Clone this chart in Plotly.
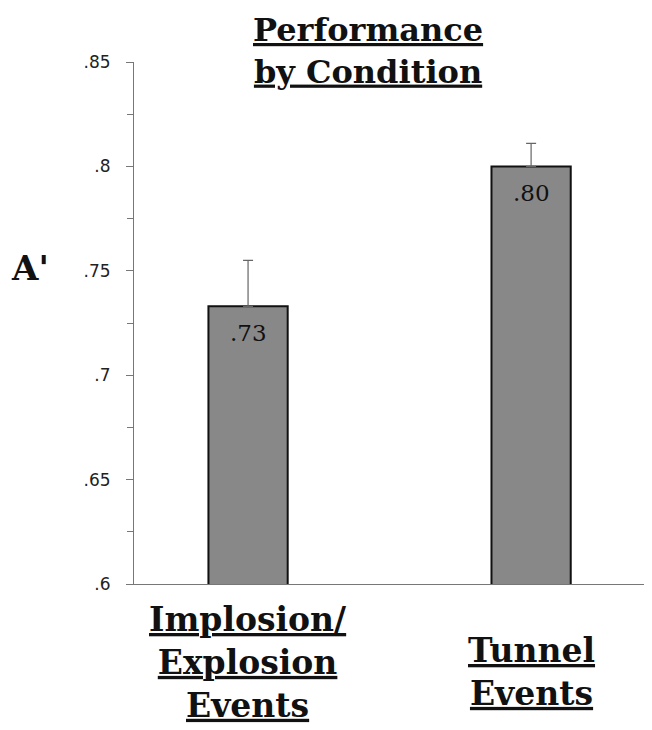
import plotly.graph_objects as go

categories = ["Implosion/<br>Explosion<br>Events", "Tunnel<br>Events"]
values = [0.733, 0.800]
errors = [0.022, 0.011]
bar_labels = [".73", ".80"]
tick_vals = [0.6, 0.65, 0.7, 0.75, 0.8, 0.85]
tick_text = [".6", ".65", ".7", ".75", ".8", ".85"]

xpos = list(range(len(categories)))

fig = go.Figure()
fig.add_trace(go.Bar(
    x=xpos, y=values, width=0.28,
    marker=dict(color="#888888", line=dict(color="#111111", width=2)),
    error_y=dict(type="data", symmetric=False, array=errors, arrayminus=[0]*len(errors),
                 color="#666666", thickness=1.2, width=5),
    showlegend=False, hoverinfo="skip",
))

serif = "DejaVu Serif"
for x, v, lab in zip(xpos, values, bar_labels):
    fig.add_annotation(x=x, y=v, xref="x", yref="y", text=lab, showarrow=False,
                       yanchor="middle", yshift=-27,
                       font=dict(family=serif, size=23, color="#111111"))

cat_y = [-0.150, -0.169]
for x, c, cy in zip(xpos, categories, cat_y):
    lines = c.split("<br>")
    txt = "<br>".join(f"<b><u>{l}</u></b>" for l in lines)
    fig.add_annotation(x=x, y=cy, xref="x", yref="paper", text=txt, showarrow=False,
                       yanchor="middle", borderpad=0,
                       font=dict(family=serif, size=33, color="#111111"))

fig.add_annotation(x=0.455, y=1.021, xref="paper", yref="paper",
                   text="<b><u>Performance</u></b><br><b><u>by Condition</u></b>",
                   showarrow=False, yanchor="middle",
                   font=dict(family=serif, size=32, color="#111111"))

fig.add_annotation(x=-0.243, y=0.605, xref="paper", yref="paper", text="<b>A'</b>",
                   showarrow=False, font=dict(family=serif, size=34, color="#111111"))

fig.update_layout(
    width=644, height=722,
    margin=dict(l=126, r=4, t=54, b=146),
    paper_bgcolor="white", plot_bgcolor="white",
    xaxis=dict(range=[-0.403, 1.413], showticklabels=False, ticks="", showgrid=False,
               zeroline=False, showline=True, linecolor="#777777", linewidth=1),
    yaxis=dict(range=[0.6, 0.85], tickvals=tick_vals, ticktext=tick_text,
               ticks="outside", ticklen=7, tickcolor="#777777", showgrid=False,
               zeroline=False, showline=True, linecolor="#777777", linewidth=1,
               ticklabelstandoff=12,
               tickfont=dict(family="DejaVu Sans", size=17, color="#222222"),
               minor=dict(dtick=0.025, ticks="outside", ticklen=6, tickcolor="#777777", showgrid=False)),
)

fig.write_html("out.html")
